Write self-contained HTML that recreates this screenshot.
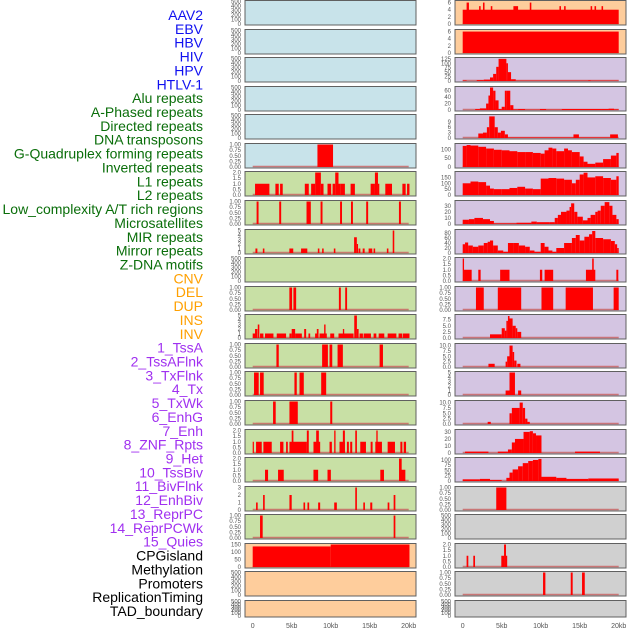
<!DOCTYPE html>
<html><head><meta charset="utf-8"><style>
html,body{margin:0;padding:0;background:#fff;}
svg{display:block;font-family:"Liberation Sans",sans-serif;}
</style></head><body>
<svg id="chart" width="630" height="630" viewBox="0 0 630 630" xmlns="http://www.w3.org/2000/svg"></svg>
<script>
// ---- track labels ----
const labels = ["AAV2","EBV","HBV","HIV","HPV","HTLV-1","Alu repeats","A-Phased repeats","Directed repeats","DNA transposons","G-Quadruplex forming repeats","Inverted repeats","L1 repeats","L2 repeats","Low_complexity A/T rich regions","Microsatellites","MIR repeats","Mirror repeats","Z-DNA motifs","CNV","DEL","DUP","INS","INV","1_TssA","2_TssAFlnk","3_TxFlnk","4_Tx","5_TxWk","6_EnhG","7_Enh","8_ZNF_Rpts","9_Het","10_TssBiv","11_BivFlnk","12_EnhBiv","13_ReprPC","14_ReprPCWk","15_Quies","CPGisland","Methylation","Promoters","ReplicationTiming","TAD_boundary"];
const labelGroups = [6,13,5,15,5];
const groupColors = ["#1010f0","#0a6e0a","#ffa000","#a030f0","#000000"];
const xTickValues = [0,5,10,15,20];
const xTickLabels = ["0","5kb","10kb","15kb","20kb"];

// ---- left column: segments [startKb, endKb, value] ----
const L0=[],L1=[],L2=[],L3=[],L4=[];
const L5=[[8.3,10.3,1]];
const L6=[[0.3,2.14,1],[2.91,3.34,1],[3.51,3.85,1],[6.68,7.19,1],[7.49,8.01,1],[8.01,8.74,2],[8.74,9.08,1],[9.59,10.06,1],[10.24,10.58,1],[10.58,11.0,2],[11.0,11.22,1],[11.22,11.82,1],[12.55,13.1,1],[15.12,15.67,1],[15.67,16.06,2],[16.06,16.23,1],[17.0,17.86,1],[19.19,19.61,1],[19.79,20.1,1]];
const L7=[[0.5,0.75,1],[3.4,3.65,1],[6.9,7.45,1],[8.7,8.95,1],[11.2,11.45,1],[12.6,12.85,1],[14.55,14.8,1],[18.75,19.0,1]];
const L8=[[0.35,0.6,1],[1.3,1.5,1],[4.7,5.2,1],[6.2,7.0,1],[8.35,8.55,1],[8.9,9.1,1],[10.4,10.6,1],[13.0,13.35,3.5],[13.35,13.5,2],[13.57,13.8,1],[14.1,14.35,1],[14.86,15.33,1],[15.5,15.7,1],[17.2,17.4,1],[17.95,18.15,5]];
const L9=[];
const L10=[[4.7,5.05,1],[5.22,5.57,1],[11.05,11.3,1],[11.86,12.1,1]];
const L11=[[0,0.5,1],[0.3,0.6,2],[0.65,0.85,3],[0.94,1.37,1],[1.58,2.66,1],[3.08,4.28,1],[4.71,5.0,1],[5.0,5.44,2],[5.44,6.3,1],[6.6,6.85,2],[7.15,7.37,1],[8.0,8.3,1],[8.22,8.44,2],[8.57,9.5,1],[9.16,9.34,3],[9.94,10.45,1],[11.0,12.93,1],[11.56,11.73,2],[13.02,13.36,5],[13.36,13.58,2],[13.7,14.13,1],[14.22,15.16,1],[15.5,15.85,1],[16.15,16.87,1],[17.3,18.42,1],[18.7,19.19,1],[19.27,20.1,1]];
const L12=[[3.04,3.34,1],[8.9,9.64,1],[9.85,10.2,1],[10.88,11.56,1],[16.27,16.7,1]];
const L13=[[0.17,0.77,1],[0.94,1.41,1],[5.35,5.65,1],[6.0,6.55,1],[8.78,9.42,1]];
const L14=[[2.61,2.95,1],[4.71,5.78,1],[9.94,10.2,1]];
const L15=[[0,0.15,1],[0.43,1.16,1],[1.37,2.44,1],[3.51,3.94,1],[4.28,4.5,1],[4.71,6.94,1],[5.0,5.22,2],[6.94,7.19,2],[7.79,8.65,1],[8.14,8.48,2],[9.85,10.15,1],[10.45,10.62,2],[11.13,11.82,1],[11.56,11.82,2],[12.08,12.33,1],[12.5,12.76,1],[13.15,13.36,2],[13.79,14.52,1],[15.12,15.37,1],[15.72,16.57,1],[15.85,16.02,2],[17.3,18.24,1],[18.93,19.19,1],[19.36,19.66,1]];
const L16=[[1.58,1.97,1],[3.25,3.98,1],[7.79,8.39,1],[9.59,10.02,1],[16.36,16.83,1],[18.93,19.57,1],[18.76,19.1,2]];
const L17=[[0.43,0.64,1],[1.33,1.54,2],[4.71,5.0,2],[6.51,6.72,1],[7.02,7.24,1],[8.39,8.65,1],[10.45,10.79,1],[13.15,13.36,3],[14.18,14.39,1],[15.07,15.33,1],[17.3,17.52,1],[18.07,18.29,2]];
const L18=[[0.94,1.28,1],[18.07,18.29,1]];
const L19=[[0,10,137],[10,20.1,150]];
const L20=[],L21=[];

// ---- right column ----
const R0=[[0,20,4],[0.5,0.8,6],[2.1,2.3,5],[2.6,2.8,6],[3.6,3.8,5],[6.5,7.1,5],[8.6,8.8,6],[12.4,12.6,5],[13.0,13.2,5],[16.4,16.6,5],[16.9,17.1,5],[17.8,18.0,5]];
const R1=[[0,20,6]];
const R2=[[0,0.5,3],[1.8,2.7,5],[2.7,3.5,8],[3.5,3.9,20],[3.9,4.3,40],[4.3,4.6,80],[4.6,5.6,125],[5.6,5.8,100],[5.8,6.2,50],[6.2,6.8,10],[6.8,20,2],[16.1,16.4,4]];
const R3=[[1.6,2.2,3],[2.2,3.0,5],[3.0,3.3,20],[3.3,3.5,45],[3.5,3.9,70],[3.9,4.2,60],[4.2,4.6,30],[4.6,5.0,3],[5.0,5.4,10],[5.4,5.6,60],[5.6,6.1,60],[6.1,6.5,15],[6.5,7.1,2],[7.1,8.0,3],[8.0,9.9,1],[9.9,10.7,3],[10.7,12.7,1],[12.7,17.8,3],[17.8,18.7,3],[18.7,19.4,4],[19.4,20,2]];
const R4=[[2.0,2.6,2.5],[2.6,3.1,3],[3.1,3.4,6],[3.4,4.1,12],[4.1,4.5,6],[4.5,4.9,3],[4.9,5.4,4],[5.4,5.8,2],[5.8,14.2,0.3],[14.2,14.9,2],[14.9,18.9,0.3],[18.9,19.9,2]];
const R5p=[[0,120],[0.5,125],[1,122],[2,115],[3,105],[4,98],[5,95],[6,90],[7,85],[8,85],[9,80],[10,76],[10.5,95],[11,110],[11.5,105],[12,90],[13,105],[13.5,95],[14,85],[15,60],[15.5,30],[16,18],[17,25],[18,45],[19,65],[19.7,80],[20,80]];
const R6p=[[0,100],[1,115],[2,110],[3,80],[3.5,55],[4,50],[5,50],[6,60],[7,70],[8,55],[9,50],[10,140],[11,145],[12,140],[13,130],[14,100],[14.5,130],[15,175],[15.5,190],[16,150],[17,160],[18,145],[19,130],[19.7,160],[20,160]];
const R7p=[[0,7],[0.8,8],[1.5,10],[2.6,8],[3.5,5],[4,1],[6.9,2],[8.8,4],[9.5,3],[11.1,3],[11.8,10],[12.2,15],[12.6,20],[13.3,22],[13.7,28],[13.9,34],[14.3,20],[14.7,12],[15.4,6],[16.0,10],[16.4,15],[17.0,20],[17.3,22],[17.7,30],[18.2,36],[18.8,30],[19.2,15],[19.7,8],[20,8]];
const R8p=[[0,35],[0.3,42],[0.7,30],[1.3,25],[2,30],[2.7,40],[3.2,45],[3.5,50],[3.9,30],[4.5,10],[5.2,5],[5.8,40],[6.5,40],[7.2,30],[8,25],[8.6,10],[9.2,5],[10,40],[10.5,25],[11,10],[11.5,5],[12,20],[13,40],[14,60],[14.5,72],[15,50],[15.6,65],[16.2,75],[16.6,88],[17,60],[18,55],[19,48],[19.5,35],[19.8,20],[20,20]];
const R9=[[0,0.17,2],[0.17,1.15,1],[2.0,2.3,1],[4.8,6.0,1],[9.9,10.2,1],[10.5,11.6,1],[15.8,17.0,1],[16.6,16.8,2],[19.7,19.95,1]];
const R10=[[1.7,2.7,1],[4.5,7.5,1],[10.1,11.6,1],[13.2,16.7,1],[19.35,20,1]];
const R11=[[3.5,5,1.5],[5,5.4,4],[5.4,5.6,3],[5.6,5.8,7],[5.8,6.0,9],[6.0,6.4,8],[6.4,6.8,5],[6.8,7.0,4],[7.0,7.5,2.5]];
const R12=[[3.3,4.1,1.5],[5.5,5.7,2.5],[5.7,6.0,5],[6.0,6.4,10],[6.4,6.6,7],[6.6,6.9,3],[7.0,7.4,1.5]];
const R13=[[5.5,6.0,1],[6.0,6.7,5],[7.1,7.5,1]];
const R14=[[3.2,3.6,1],[6.0,6.3,5],[6.3,7.3,7.5],[7.3,7.7,10],[7.7,8.0,7.5],[8.0,8.3,2.5],[8.3,8.6,1]];
const R15=[[0.3,3.3,2],[4.5,5.8,2],[5.8,6.3,5],[6.3,6.7,15],[6.7,7.8,20],[7.8,8.6,30],[8.6,9.0,31],[9.0,9.4,28],[9.4,10.1,25],[14.4,17.6,2]];
const R16=[[0,2.2,8],[2.2,3.5,10],[3.5,5,5],[5.6,6,15],[6,6.4,40],[6.4,7.1,55],[7.1,7.7,70],[7.7,8.4,85],[8.4,9,95],[9,9.7,100],[9.7,10.1,105],[10.1,12,20],[12,13.3,15],[13.3,16.1,10],[16.1,20,12]];
const R17=[[4.3,5.6,1]];
const R18=[];
const R19=[[0.5,0.72,1],[1.36,1.58,1],[4.95,5.3,1],[5.3,5.55,2],[5.55,5.7,1]];
const R20=[[10.3,10.6,1],[13.85,14.1,1],[15.3,15.65,1]];
const R21=[];

// ---- y ticks per panel ----
const T500=[0,100,200,300,400,500], T1=[0,0.25,0.5,0.75,1], T2=[0,0.5,1,1.5,2];
const leftTicks=[T500,T500,T500,T500,T500,T1,T2,T1,[0,1,2,3,4,5],T500,T1,[0,1,2,3,4,5],T1,T1,T1,T2,T2,[0,1,2,3],T1,[0,50,100,150],T500,T500];
const leftMax=[500,500,500,500,500,1,2,1,5,500,1,5,1,1,1,2,2,3,1,150,500,500];
const rightTicks=[[0,2,4,6],[0,2,4,6],[0,25,50,75,100,125],[0,20,40,60],[0,3,6,9],[0,50,100],[0,50,100,150],[0,10,20,30],[0,20,40,60,80],T2,T1,[0,2.5,5,7.5],[0,2.5,5,7.5,10],[0,1,2,3,4,5],[0,2.5,5,7.5,10],[0,10,20,30],[0,25,50,75,100],T1,T500,T2,T1,T500];
const rightMax=[6.3,6.3,127,70,12.5,128,192,37,90,2,1,9.2,10.5,5,10.5,32,107,1,500,2,1,500];

function stepsToSegs(pts){const s=[];for(let i=0;i<pts.length-1;i++)s.push([pts[i][0],pts[i+1][0],pts[i][1]]);return s;}
const leftData=[L0,L1,L2,L3,L4,L5,L6,L7,L8,L9,L10,L11,L12,L13,L14,L15,L16,L17,L18,L19,L20,L21];
const rightData=[R0,R1,R2,R3,R4,stepsToSegs(R5p),stepsToSegs(R6p),stepsToSegs(R7p),stepsToSegs(R8p),R9,R10,R11,R12,R13,R14,R15,R16,R17,R18,R19,R20,R21];

const BLUE="#c8e3ea",GREEN="#c8e0a5",ORANGE="#fecd9c",PURPLE="#d4c5e2",GRAY="#d0d0d0";
function leftBg(i){return i<=5?BLUE:(i<=18?GREEN:ORANGE);}
function rightBg(i){return i<=1?ORANGE:(i<=16?PURPLE:GRAY);}

const svg=document.getElementById('chart');
const NS="http://www.w3.org/2000/svg";
function mk(tag,attrs,parent){const e=document.createElementNS(NS,tag);for(const k in attrs)e.setAttribute(k,attrs[k]);(parent||svg).appendChild(e);return e;}

// labels
let li=0;
labelGroups.forEach((n,g)=>{for(let k=0;k<n;k++){
  const t=mk('text',{x:203,y:15+li*13.86+5,'text-anchor':'end','font-size':'14',fill:groupColors[g]});
  t.textContent=labels[li];
  
  
  li++;}});

function xScale(col,kb){return (col===0?252.7:462.7)+kb*7.8;}
function decimals(ticks){let d=0;ticks.forEach(v=>{const s=String(v);const p=s.indexOf('.');if(p>=0)d=Math.max(d,s.length-p-1);});return d;}

function drawPanel(col,i,segs,ticks,ymax,bg){
  const px=col===0?245:455, pw=171;
  const top=Math.round(i*28.57);
  const h=i===21?17:25;
  const g=mk('g',{});
  
  
  mk('rect',{x:px,y:top+0.5,width:pw,height:h-0.5,fill:bg,stroke:'#606060','stroke-width':1},g);
  const y0=top+h-1, y1=top+1.5;
  const ys=v=>y0-(v/ymax)*(y0-y1);
  if(segs.length){
    mk('line',{x1:xScale(col,0),x2:xScale(col,20),y1:y0-0.5,y2:y0-0.5,stroke:'#c86060','stroke-width':1.5,opacity:0.8},g);
  }
  segs.forEach(s=>{
    const x=xScale(col,s[0]),w=Math.max(1.2,xScale(col,s[1])-x);
    const b=mk('rect',{x:x,y:ys(s[2]),width:w,height:y0-ys(s[2]),fill:'#ff0000'},g);
    
    
  });
  const d=decimals(ticks);
  ticks.forEach(v=>{
    const t=mk('text',{x:px-4,y:ys(v)+2,'text-anchor':'end','font-size':'6',fill:'#555'},g);
    t.textContent=v.toFixed(d);
    
    
  });
}
for(let i=0;i<22;i++){
  drawPanel(0,i,leftData[i],leftTicks[i],leftMax[i],leftBg(i));
  drawPanel(1,i,rightData[i],rightTicks[i],rightMax[i],rightBg(i));
}
// x-axis ticks
[0,1].forEach(col=>{
  xTickValues.forEach((v,k)=>{
    const t=mk('text',{x:xScale(col,v),y:628,'text-anchor':'middle','font-size':'7',fill:'#555'});
    t.textContent=xTickLabels[k];
    
    
  });
});
</script>
</body></html>
